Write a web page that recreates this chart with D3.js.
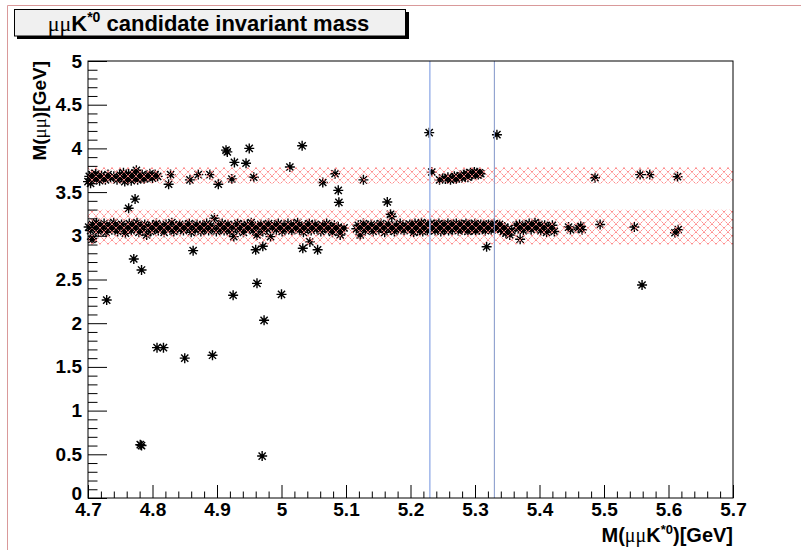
<!DOCTYPE html>
<html><head><meta charset="utf-8">
<script src="https://cdn.jsdelivr.net/npm/d3@7/dist/d3.min.js"></script>
<style>
body{margin:0;background:#fff;}
text{font-family:"Liberation Sans",Arial,sans-serif;font-weight:bold;}
</style></head>
<body>
<svg id="c" width="801" height="550"></svg>
<script>
// ---------------- data ----------------
const xDomain = [4.7, 5.7];
const yDomain = [0, 5];
const xMajorTicks = [4.7, 4.8, 4.9, 5.0, 5.1, 5.2, 5.3, 5.4, 5.5, 5.6, 5.7];
const xTickLabels = ["4.7","4.8","4.9","5","5.1","5.2","5.3","5.4","5.5","5.6","5.7"];
const yMajorTicks = [0, 0.5, 1, 1.5, 2, 2.5, 3, 3.5, 4, 4.5, 5];
const yTickLabels = ["0","0.5","1","1.5","2","2.5","3","3.5","4","4.5","5"];
const jpsiWindow = [2.9, 3.3];
const psi2sWindow = [3.596, 3.786];
const signalWindow = [5.23, 5.33];

// candidates in the J/psi band
const jpsiPoints = [
[4.701,3.10],[4.704,3.06],[4.706,2.96],[4.707,3.13],[4.710,3.09],[4.713,3.15],[4.716,3.05],[4.719,3.11],[4.722,3.08],[4.725,3.14],[4.728,3.04],[4.731,3.10],[4.734,3.12],[4.737,3.07],[4.740,3.15],[4.743,3.09],[4.746,3.05],[4.749,3.11],[4.752,3.13],[4.755,3.08],[4.758,3.03],[4.761,3.10],[4.764,3.14],[4.767,3.06],[4.770,3.12],[4.773,3.09],[4.776,3.15],[4.779,3.04],[4.782,3.11],[4.785,3.07],[4.788,3.13],[4.791,3.01],[4.794,3.10],[4.797,3.05],
[4.800,3.12],[4.803,3.08],[4.806,3.14],[4.809,3.06],[4.812,3.11],[4.815,3.09],[4.818,3.04],[4.821,3.13],[4.824,3.10],[4.827,3.07],[4.830,3.15],[4.833,3.05],[4.836,3.11],[4.839,3.08],[4.842,3.13],[4.845,3.10],[4.848,3.06],[4.851,3.12],[4.854,3.09],[4.857,3.14],[4.860,3.04],[4.863,3.11],[4.866,3.07],[4.869,3.13],[4.872,3.10],[4.875,3.05],[4.878,3.12],[4.881,3.08],[4.884,3.14],[4.887,3.06],[4.890,3.11],[4.893,3.09],[4.896,3.20],[4.899,3.05],
[4.902,3.12],[4.905,3.08],[4.908,3.14],[4.911,3.06],[4.914,3.10],[4.917,3.13],[4.920,3.05],[4.923,3.11],[4.926,2.99],[4.929,3.09],[4.932,3.14],[4.935,3.07],[4.938,3.12],[4.941,3.04],[4.944,3.10],[4.947,3.13],[4.950,3.08],[4.953,3.15],[4.956,3.06],[4.959,3.11],[4.962,3.01],[4.965,3.09],[4.968,3.13],[4.971,3.05],[4.974,3.11],[4.977,3.08],[4.980,3.14],[4.983,2.99],[4.986,3.10],[4.989,3.12],[4.992,3.07],[4.995,3.14],[4.998,3.09],
[5.001,3.05],[5.004,3.12],[5.007,3.08],[5.010,3.14],[5.013,3.10],[5.016,3.06],[5.019,3.13],[5.022,3.09],[5.025,3.15],[5.028,3.07],[5.031,3.11],[5.034,3.04],[5.037,3.12],[5.040,3.09],[5.043,3.14],[5.046,3.06],[5.049,3.10],[5.052,3.13],[5.055,3.08],[5.058,3.11],[5.061,3.05],[5.064,3.12],[5.067,3.09],[5.070,3.14],[5.073,3.07],[5.076,3.10],[5.079,3.04],[5.082,3.12],[5.085,3.08],[5.088,3.10],[5.091,3.01],[5.094,3.06],[5.097,3.09],
[5.116,3.08],[5.119,3.12],[5.122,3.01],[5.124,3.10],[5.127,3.14],[5.130,3.06],[5.133,3.11],[5.136,3.09],[5.139,3.13],[5.142,3.05],[5.145,3.10],[5.148,3.12],[5.151,3.07],[5.154,3.14],[5.157,3.09],[5.160,3.04],[5.163,3.11],[5.166,3.13],[5.169,3.07],[5.171,3.22],[5.172,3.10],[5.175,3.05],[5.178,3.12],[5.181,3.08],[5.184,3.14],[5.187,3.10],[5.190,3.06],[5.193,3.12],[5.196,3.09],[5.199,3.13],
[5.201,3.07],[5.202,3.12],[5.204,3.10],[5.205,3.04],[5.207,3.14],[5.208,3.09],[5.210,3.11],[5.211,3.06],[5.213,3.13],[5.214,3.08],[5.216,3.10],[5.217,3.15],[5.219,3.05],[5.220,3.11],[5.222,3.08],[5.223,3.13],[5.225,3.10],[5.226,3.06],[5.228,3.12],[5.229,3.09],[5.231,3.14],[5.232,3.07],[5.234,3.11],[5.235,3.09],[5.237,3.13],[5.238,3.06],[5.240,3.10],[5.241,3.12],[5.243,3.08],[5.244,3.14],[5.246,3.10],[5.247,3.05],[5.249,3.12],[5.250,3.09],[5.252,3.13],[5.253,3.07],[5.255,3.11],[5.256,3.10],[5.258,3.14],[5.259,3.06],[5.261,3.12],[5.262,3.09],[5.264,3.11],[5.265,3.07],[5.267,3.13],[5.268,3.10],[5.270,3.08],[5.271,3.14],[5.273,3.11],[5.274,3.06],[5.276,3.12],[5.277,3.09],[5.279,3.13],[5.280,3.07],[5.282,3.10],[5.283,3.12],[5.285,3.08],[5.286,3.14],[5.288,3.10],[5.289,3.05],[5.291,3.12],[5.292,3.09],[5.294,3.13],[5.295,3.07],[5.297,3.11],[5.298,3.10],[5.300,3.14],[5.301,3.06],[5.303,3.12],[5.304,3.09],[5.306,3.11],[5.307,3.07],[5.309,3.13],[5.310,3.10],[5.312,3.08],[5.313,3.12],[5.315,3.10],[5.316,3.06],[5.318,3.12],[5.319,3.09],[5.321,3.13],[5.322,3.08],[5.324,3.11],[5.325,3.07],[5.327,3.12],[5.328,3.10],[5.330,3.14],[5.331,3.08],
[5.334,3.12],[5.336,3.09],[5.338,3.13],[5.340,3.07],[5.342,3.11],[5.344,3.05],[5.346,3.10],[5.348,3.03],[5.351,3.08],[5.354,3.01],[5.357,3.06],
[5.364,3.12],[5.367,3.08],[5.369,3.13],[5.372,3.10],[5.375,3.06],[5.378,3.12],[5.381,3.09],[5.384,3.14],[5.387,3.07],[5.390,3.11],[5.393,3.15],[5.396,3.09],[5.399,3.13],[5.402,3.06],[5.405,3.10],[5.408,3.12],[5.411,3.04],[5.414,3.10],[5.417,3.08],[5.420,3.12],[5.423,3.05],
[5.445,3.10],[5.448,3.07],[5.460,3.09],[5.464,3.11],[5.466,3.07],
[5.494,3.13],[5.547,3.10],[5.610,3.035],[5.615,3.07]
];

// candidates in the psi(2S) band
const psi2sPoints = [
[4.700,3.62],[4.702,3.68],[4.704,3.60],[4.706,3.70],[4.709,3.65],[4.712,3.71],[4.715,3.66],[4.718,3.63],[4.721,3.69],[4.724,3.67],[4.727,3.64],[4.731,3.70],[4.735,3.66],[4.740,3.68],[4.745,3.64],[4.749,3.70],[4.752,3.66],[4.755,3.72],[4.757,3.62],[4.759,3.68],[4.761,3.65],[4.763,3.71],[4.765,3.67],[4.767,3.63],[4.769,3.69],[4.771,3.66],[4.773,3.72],[4.775,3.75],[4.777,3.64],[4.779,3.68],[4.781,3.66],[4.784,3.70],[4.787,3.65],[4.790,3.68],[4.793,3.67],[4.796,3.71],[4.800,3.66],[4.804,3.70],[4.808,3.68],
[4.825,3.59],[4.828,3.70],[4.858,3.64],[4.871,3.70],[4.889,3.70],[4.902,3.59],[4.923,3.65],[4.957,3.67],[5.064,3.61],[5.083,3.71],[5.127,3.64],
[5.233,3.73],[5.245,3.64],[5.250,3.66],[5.254,3.65],[5.258,3.67],[5.262,3.64],[5.265,3.66],[5.268,3.68],[5.271,3.65],[5.274,3.67],[5.277,3.69],[5.280,3.66],[5.283,3.70],[5.285,3.68],[5.287,3.71],[5.289,3.67],[5.291,3.70],[5.293,3.72],[5.295,3.69],[5.297,3.71],[5.299,3.73],[5.301,3.70],[5.303,3.72],[5.305,3.70],[5.307,3.72],[5.309,3.71],
[5.486,3.665],[5.556,3.70],[5.571,3.70],[5.614,3.676]
];

// candidates outside both bands
const otherPoints = [
[4.708,2.97],[4.729,2.265],[4.771,2.735],[4.783,2.609],[4.781,0.61],[4.783,0.60],[4.807,1.72],[4.817,1.72],[4.850,1.60],[4.893,1.633],[4.863,2.83],[4.925,2.32],[4.962,2.456],[4.973,2.033],[5.000,2.33],[4.960,2.84],[4.971,2.88],[4.970,0.48],[5.033,2.857],[5.044,2.93],[5.056,2.84],[5.559,2.437],[5.318,2.875],[5.370,2.96],
[4.763,3.315],[4.773,3.42],[4.914,3.98],[4.916,3.96],[4.950,4.00],[4.927,3.84],[4.945,3.83],[5.032,4.03],[5.013,3.787],[5.088,3.52],[5.089,3.383],[5.164,3.387],[5.169,3.246],[5.229,4.18],[5.334,4.157]
];

// ---------------- drawing ----------------
const svg = d3.select("#c");
const L = 88, R = 733, T = 61, B = 498;
const x = d3.scaleLinear().domain(xDomain).range([L, R]);
const y = d3.scaleLinear().domain(yDomain).range([B, T]);
const FONT = '"Liberation Sans",Arial,sans-serif';
const SYM = '"Liberation Serif",serif';

// canvas border (pink)
svg.append("line").attr("x1",7.5).attr("x2",801).attr("y1",5.5).attr("y2",5.5).attr("stroke","#d9999a").attr("stroke-width",1);
svg.append("line").attr("x1",7.5).attr("x2",7.5).attr("y1",5.5).attr("y2",550).attr("stroke","#d9999a").attr("stroke-width",1);

const defs = svg.append("defs");
const pat = defs.append("pattern").attr("id","hatch").attr("patternUnits","userSpaceOnUse")
  .attr("width",8).attr("height",8);
pat.append("path").attr("d","M0,0 L8,8 M8,0 L0,8 M-1,7 L1,9 M7,-1 L9,1 M-1,1 L1,-1 M7,9 L9,7")
  .attr("stroke","#ff8c8c").attr("stroke-width",1).attr("fill","none").attr("stroke-dasharray","1.5,0.6");

// markers
const allPts = jpsiPoints.concat(psi2sPoints, otherPoints);
function star(px, py){
  const a = 5, b = 3.6;
  return `M${px-a},${py}H${px+a}M${px},${py-a}V${py+a}M${px-b},${py-b}L${px+b},${py+b}M${px-b},${py+b}L${px+b},${py-b}`;
}
const gm = svg.append("g");
gm.selectAll("path").data(allPts).join("path")
  .attr("d", d => star(x(d[0]), y(d[1])))
  .attr("stroke","#000").attr("stroke-width",1.4).attr("fill","none");
gm.selectAll("rect").data(allPts).join("rect")
  .attr("x", d => x(d[0]) - 1.5).attr("y", d => y(d[1]) - 1.5)
  .attr("width",3).attr("height",3).attr("fill","#000");

// hatched mass windows
[jpsiWindow, psi2sWindow].forEach(w => {
  svg.append("rect").attr("x", L).attr("width", R - L)
    .attr("y", y(w[1])).attr("height", y(w[0]) - y(w[1]))
    .attr("fill","url(#hatch)");
});

// signal window lines
svg.append("line").attr("x1",x(signalWindow[0])).attr("x2",x(signalWindow[0])).attr("y1",T).attr("y2",B)
  .attr("stroke","#9fb6ea").attr("stroke-width",1.5);
svg.append("line").attr("x1",x(signalWindow[1])).attr("x2",x(signalWindow[1])).attr("y1",T).attr("y2",B)
  .attr("stroke","#8094c8").attr("stroke-width",1);

// frame
svg.append("rect").attr("x",L).attr("y",T).attr("width",R-L).attr("height",B-T)
  .attr("fill","none").attr("stroke","#000").attr("stroke-width",1);

// x axis
const xMinor = d3.range(0, 51).map(i => 4.7 + i * 0.02).filter(v => Math.abs(Math.round(v*10) - v*10) > 1e-6);
const gx = svg.append("g").attr("transform", `translate(0,${B})`);
gx.call(d3.axisBottom(x).tickValues(xMajorTicks).tickSizeInner(-13).tickSizeOuter(0).tickPadding(5)
  .tickFormat((d,i) => xTickLabels[i]));
const gx2 = svg.append("g").attr("transform", `translate(0,${B})`);
gx2.call(d3.axisBottom(x).tickValues(xMinor).tickSizeInner(-6.5).tickSizeOuter(0).tickFormat(""));
// y axis
const yMinor = d3.range(0, 51).map(i => i * 0.1).filter(v => Math.abs(Math.round(v*2) - v*2) > 1e-6);
const gy = svg.append("g").attr("transform", `translate(${L},0)`);
gy.call(d3.axisLeft(y).tickValues(yMajorTicks).tickSizeInner(-19).tickSizeOuter(0).tickPadding(6)
  .tickFormat((d,i) => yTickLabels[i]));
const gy2 = svg.append("g").attr("transform", `translate(${L},0)`);
gy2.call(d3.axisLeft(y).tickValues(yMinor).tickSizeInner(-9.5).tickSizeOuter(0).tickFormat(""));
[gx, gx2, gy, gy2].forEach(g => {
  g.select(".domain").remove();
  g.selectAll("line").attr("stroke","#000");
  g.selectAll("text").attr("font-size",19).attr("font-family",FONT)
    .attr("font-weight","bold").attr("fill","#000");
});
gy.selectAll(".tick text").filter(d => d === 0).attr("dy","0.1em");

// axis titles
const xt = svg.append("text").attr("x", R).attr("y", 542).attr("text-anchor","end").attr("font-size",20);
xt.append("tspan").text("M(");
xt.append("tspan").attr("font-weight","normal").attr("font-family",SYM).text("μμ");
xt.append("tspan").text("K");
xt.append("tspan").attr("font-size",13).attr("dy",-8).text("*0");
xt.append("tspan").attr("dy",8).text(")[GeV]");

const yt = svg.append("text").attr("transform", `translate(46,${T}) rotate(-90)`).attr("text-anchor","end").attr("font-size",19);
yt.append("tspan").text("M(");
yt.append("tspan").attr("font-weight","normal").attr("font-family",SYM).text("μμ");
yt.append("tspan").text(")[GeV]");

// title box
svg.append("rect").attr("x",17).attr("y",12).attr("width",392).attr("height",27).attr("fill","#000");
svg.append("rect").attr("x",14.5).attr("y",9.5).attr("width",391).attr("height",26.5)
  .attr("fill","#f0f0f0").attr("stroke","#000").attr("stroke-width",1);
const tt = svg.append("text").attr("x",208.5).attr("y",30.5).attr("text-anchor","middle").attr("font-size",22);
tt.append("tspan").attr("font-weight","normal").attr("font-family",SYM).text("μμ");
tt.append("tspan").text("K");
tt.append("tspan").attr("font-size",14).attr("dy",-9).text("*0");
tt.append("tspan").attr("dy",9).text(" candidate invariant mass");
</script>
</body></html>
